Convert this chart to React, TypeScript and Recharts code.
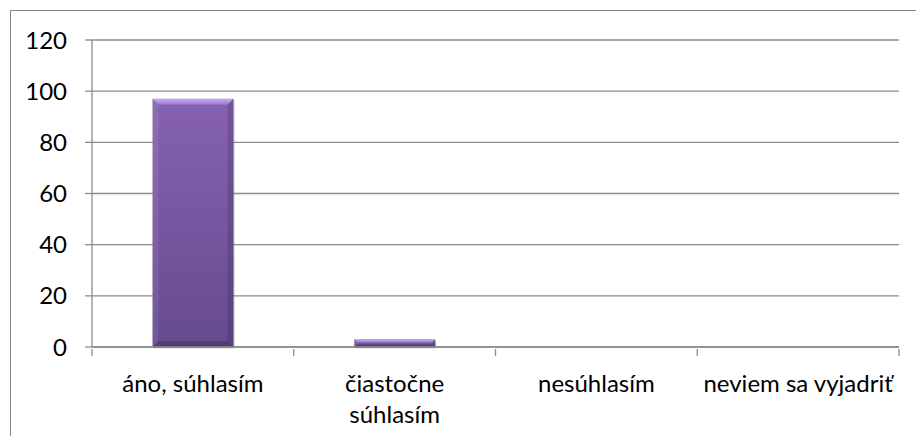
import { BarChart, Bar, XAxis, YAxis, CartesianGrid } from "recharts"

const categories = ["áno, súhlasím", "čiastočne\nsúhlasím", "nesúhlasím", "neviem sa vyjadriť"]
const answers = [97, 3, 0, 0]
const yTicks = [0, 20, 40, 60, 80, 100, 120]

const data = categories.map((name, i) => ({ name, value: answers[i] }))

const AXIS = "#8c8c8c"
const FONT = "Lato, 'Open Sans', sans-serif"

const BevelBar = (props: { x?: number; y?: number; width?: number; height?: number }) => {
  const { x = 0, y = 0, width = 0, height = 0 } = props
  if (height <= 0) return null
  const b = Math.min(6, height / 2.5)
  const r = x + width
  const bot = y + height
  return (
    <g>
      <rect x={x + 1} y={y + 1.5} width={width} height={height} fill="#000" opacity={0.18} />
      <rect x={x} y={y} width={width} height={height} fill="url(#barGrad)" />
      <polygon points={`${x},${y} ${r},${y} ${r - b},${y + b} ${x + b},${y + b}`} fill="url(#topGrad)" />
      <polygon points={`${x},${y} ${x + b},${y + b} ${x + b},${bot - b} ${x},${bot}`} fill="#ffffff" opacity={0.08} />
      <polygon points={`${r},${y} ${r - b},${y + b} ${r - b},${bot - b} ${r},${bot}`} fill="#000000" opacity={0.12} />
      <polygon points={`${x},${bot} ${x + b},${bot - b} ${r - b},${bot - b} ${r},${bot}`} fill="#000000" opacity={0.18} />
    </g>
  )
}

const CategoryTick = (props: {
  x?: number
  y?: number
  index?: number
  visibleTicksCount?: number
  payload?: { value: string; offset: number }
}) => {
  const { x = 0, y = 0, index = 0, visibleTicksCount = 0, payload } = props
  const half = payload?.offset ?? 0
  const lines = String(payload?.value ?? "").split("\n")
  return (
    <g>
      <line x1={x - half} x2={x - half} y1={y} y2={y + 7} stroke={AXIS} strokeWidth={1.3} />
      {index === visibleTicksCount - 1 && (
        <line x1={x + half} x2={x + half} y1={y} y2={y + 7} stroke={AXIS} strokeWidth={1.3} />
      )}
      <text textAnchor="middle" fill="#000" fontSize={24} fontFamily={FONT}>
        {lines.map((line, i) => (
          <tspan key={i} x={x} y={y + 43 + i * 31}>
            {line}
          </tspan>
        ))}
      </text>
    </g>
  )
}

export default function App() {
  return (
    <div style={{ position: "absolute", left: 0, top: 0, width: 916, height: 436, overflow: "hidden", background: "#fff" }}>
      <div
        style={{
          position: "absolute",
          left: 10,
          top: 10,
          width: 920,
          height: 440,
          border: "1.5px solid #8a8a8a",
        }}
      />
      <div style={{ position: "absolute", left: 0, top: 0 }}>
        <BarChart width={916} height={436} data={data} margin={{ top: 40, right: 17, bottom: 0, left: 0 }} barCategoryGap="30%">
          <defs>
            <linearGradient id="barGrad" x1="0" y1="0" x2="0" y2="1">
              <stop offset="0%" stopColor="#8662b2" />
              <stop offset="100%" stopColor="#664a8e" />
            </linearGradient>
            <linearGradient id="topGrad" x1="0" y1="0" x2="0" y2="1">
              <stop offset="0%" stopColor="#c8acf2" />
              <stop offset="100%" stopColor="#9a78cc" />
            </linearGradient>
          </defs>
          <CartesianGrid vertical={false} stroke={AXIS} strokeWidth={1.3} />
          <XAxis
            dataKey="name"
            height={89}
            interval={0}
            tickSize={0}
            tickLine={false}
            axisLine={{ stroke: AXIS, strokeWidth: 1.3 }}
            tick={<CategoryTick />}
          />
          <YAxis
            width={92}
            domain={[0, 120]}
            ticks={yTicks}
            interval={0}
            tickSize={7}
            tickMargin={18}
            axisLine={{ stroke: AXIS, strokeWidth: 1.3 }}
            tickLine={{ stroke: AXIS, strokeWidth: 1.3 }}
            tick={{ fill: "#000", fontSize: 24, fontFamily: FONT }}
          />
          <Bar dataKey="value" shape={<BevelBar />} isAnimationActive={false} />
        </BarChart>
      </div>
    </div>
  )
}
